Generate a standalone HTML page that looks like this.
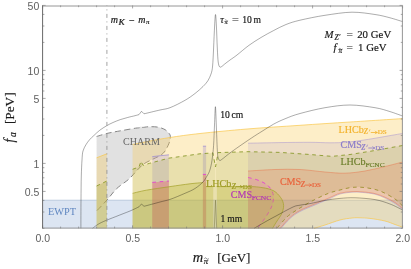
<!DOCTYPE html>
<html><head><meta charset="utf-8"><title>plot</title>
<style>
html,body{margin:0;padding:0;background:#fff;}
body{width:411px;height:269px;overflow:hidden;font-family:"Liberation Serif",serif;}
svg{display:block;}
</style></head><body>
<svg width="411" height="269" viewBox="0 0 411 269">
<rect width="411" height="269" fill="#ffffff"/>
<rect x="42.6" y="200.2" width="360.0" height="28.200000000000017" fill="#b9cbe6" fill-opacity="0.5"/>
<line x1="42.6" y1="200.2" x2="402.6" y2="200.2" stroke="#9fb2cf" stroke-width="0.6"/>
<path d="M96.6,136.5 C98.5,135.9 104.1,134.1 108.0,133.2 C111.9,132.3 115.4,131.7 120.0,130.9 C124.6,130.1 132.1,128.7 135.4,128.2 C138.7,127.7 138.7,128.0 139.6,127.7 C140.5,127.4 140.5,126.3 141.0,126.3 C141.5,126.2 141.1,127.3 142.4,127.4 C143.7,127.5 146.2,126.8 148.8,126.7 C151.4,126.7 155.0,126.6 157.7,127.1 C160.4,127.6 163.1,128.5 165.1,129.7 C167.1,130.9 168.7,132.8 169.6,134.1 C170.5,135.4 170.4,136.2 170.3,137.8 C170.2,139.4 169.7,141.6 168.8,143.8 C167.9,146.0 166.4,149.1 165.1,151.0 C163.8,152.9 162.8,153.8 160.7,155.2 C158.6,156.6 155.6,157.8 152.7,159.3 C149.8,160.8 146.2,162.2 143.4,164.2 C140.6,166.2 138.4,169.0 136.0,171.5 C133.6,174.0 132.1,176.3 128.8,179.2 C125.5,182.1 120.0,185.4 116.4,188.9 C112.8,192.4 110.3,196.3 107.0,200.0 C103.7,203.7 98.3,209.2 96.6,211.0 Z" fill="#dcdcdc" fill-opacity="0.85"/>
<path d="M96.6,136.5 C98.5,135.9 104.1,134.1 108.0,133.2 C111.9,132.3 115.4,131.7 120.0,130.9 C124.6,130.1 132.1,128.7 135.4,128.2 C138.7,127.7 138.7,128.0 139.6,127.7 C140.5,127.4 140.5,126.3 141.0,126.3 C141.5,126.2 141.1,127.3 142.4,127.4 C143.7,127.5 146.2,126.8 148.8,126.7 C151.4,126.7 155.0,126.6 157.7,127.1 C160.4,127.6 163.1,128.5 165.1,129.7 C167.1,130.9 168.7,132.8 169.6,134.1 C170.5,135.4 170.4,136.2 170.3,137.8 C170.2,139.4 169.7,141.6 168.8,143.8 C167.9,146.0 166.4,149.1 165.1,151.0 C163.8,152.9 162.8,153.8 160.7,155.2 C158.6,156.6 155.6,157.8 152.7,159.3 C149.8,160.8 146.2,162.2 143.4,164.2 C140.6,166.2 138.4,169.0 136.0,171.5 C133.6,174.0 132.1,176.3 128.8,179.2 C125.5,182.1 120.0,185.4 116.4,188.9 C112.8,192.4 110.3,196.3 107.0,200.0 C103.7,203.7 98.3,209.2 96.6,211.0" fill="none" stroke="#7a7a7a" stroke-width="0.9" stroke-dasharray="6,3.5"/>
<path d="M96.6,157.8 L106.9,153.8 L106.9,228.4 L96.6,228.4 Z" fill="#f9c74a" fill-opacity="0.3"/>
<path d="M132.6,144.5 C135.5,143.9 143.8,142.2 150.0,141.0 C156.2,139.8 161.7,138.8 170.0,137.5 C178.3,136.2 187.2,134.9 200.0,133.5 C212.8,132.1 230.3,130.4 247.0,129.0 C263.7,127.6 282.8,126.5 300.0,125.3 C317.2,124.1 332.9,123.1 350.0,122.0 C367.1,120.9 393.8,119.2 402.6,118.6 L402.6,227.2 C401.3,226.8 397.9,225.5 395.0,224.5 C392.1,223.5 389.2,222.0 385.0,221.0 C380.8,220.0 374.2,218.9 370.0,218.4 C365.8,217.9 363.0,217.9 360.0,217.8 C357.0,217.7 355.3,217.6 352.0,218.0 C348.7,218.4 344.5,218.8 340.0,220.0 C335.5,221.2 329.3,223.6 325.0,225.0 C320.7,226.4 315.8,227.8 314.0,228.4 L132.6,228.4 Z" fill="#f9c74a" fill-opacity="0.3"/>
<path d="M96.6,157.8 L106.9,153.8" fill="none" stroke="#f9c74a" stroke-width="0.7"/>
<path d="M132.6,144.5 C135.5,143.9 143.8,142.2 150.0,141.0 C156.2,139.8 161.7,138.8 170.0,137.5 C178.3,136.2 187.2,134.9 200.0,133.5 C212.8,132.1 230.3,130.4 247.0,129.0 C263.7,127.6 282.8,126.5 300.0,125.3 C317.2,124.1 332.9,123.1 350.0,122.0 C367.1,120.9 393.8,119.2 402.6,118.6" fill="none" stroke="#f9c74a" stroke-width="0.7"/>
<path d="M402.6,227.2 C401.3,226.8 397.9,225.5 395.0,224.5 C392.1,223.5 389.2,222.0 385.0,221.0 C380.8,220.0 374.2,218.9 370.0,218.4 C365.8,217.9 363.0,217.9 360.0,217.8 C357.0,217.7 355.3,217.6 352.0,218.0 C348.7,218.4 344.5,218.8 340.0,220.0 C335.5,221.2 329.3,223.6 325.0,225.0 C320.7,226.4 315.8,227.8 314.0,228.4" fill="none" stroke="#f9c74a" stroke-width="0.7"/>
<path d="M248.0,143.2 C253.3,143.1 269.7,142.8 280.0,142.6 C290.3,142.4 301.7,142.3 310.0,142.3 C318.3,142.3 323.8,142.8 330.0,142.8 C336.2,142.8 341.3,142.7 347.0,142.2 C352.7,141.7 358.3,140.8 364.0,140.0 C369.7,139.2 375.9,138.1 381.0,137.2 C386.1,136.3 391.2,135.4 394.8,134.8 C398.4,134.2 401.3,133.6 402.6,133.4 L402.6,209.5 C401.3,208.5 397.9,205.4 395.0,203.5 C392.1,201.6 388.3,199.6 385.0,198.0 C381.7,196.4 378.8,195.1 375.0,194.2 C371.2,193.3 365.8,192.7 362.0,192.4 C358.2,192.1 355.7,191.9 352.0,192.2 C348.3,192.5 343.7,192.9 340.0,194.0 C336.3,195.1 334.0,196.8 330.0,198.5 C326.0,200.2 321.0,202.3 316.0,204.5 C311.0,206.7 304.3,209.2 300.0,211.5 C295.7,213.8 293.2,215.7 290.0,218.5 C286.8,221.3 282.5,226.8 281.0,228.4 L248,228.4 Z" fill="#9a86d0" fill-opacity="0.16"/>
<path d="M248.0,143.2 C253.3,143.1 269.7,142.8 280.0,142.6 C290.3,142.4 301.7,142.3 310.0,142.3 C318.3,142.3 323.8,142.8 330.0,142.8 C336.2,142.8 341.3,142.7 347.0,142.2 C352.7,141.7 358.3,140.8 364.0,140.0 C369.7,139.2 375.9,138.1 381.0,137.2 C386.1,136.3 391.2,135.4 394.8,134.8 C398.4,134.2 401.3,133.6 402.6,133.4" fill="none" stroke="#9a86d0" stroke-width="0.55" stroke-opacity="0.8"/>
<path d="M402.6,209.5 C401.3,208.5 397.9,205.4 395.0,203.5 C392.1,201.6 388.3,199.6 385.0,198.0 C381.7,196.4 378.8,195.1 375.0,194.2 C371.2,193.3 365.8,192.7 362.0,192.4 C358.2,192.1 355.7,191.9 352.0,192.2 C348.3,192.5 343.7,192.9 340.0,194.0 C336.3,195.1 334.0,196.8 330.0,198.5 C326.0,200.2 321.0,202.3 316.0,204.5 C311.0,206.7 304.3,209.2 300.0,211.5 C295.7,213.8 293.2,215.7 290.0,218.5 C286.8,221.3 282.5,226.8 281.0,228.4" fill="none" stroke="#9a86d0" stroke-width="0.55" stroke-opacity="0.8"/>
<path d="M152.3,156.6 L168.9,154.8 L168.9,228.4 L152.3,228.4 Z" fill="#9a86d0" fill-opacity="0.25"/>
<line x1="152.3" y1="156.6" x2="168.9" y2="154.8" stroke="#9a86d0" stroke-width="0.7"/>
<rect x="202.9" y="146.2" width="3.2" height="82.20000000000002" fill="#9a86d0" fill-opacity="0.3"/><line x1="202.9" y1="146.2" x2="206.1" y2="146.2" stroke="#9a86d0" stroke-width="0.7"/>
<path d="M96.6,186 L106.9,181 L106.9,228.4 L96.6,228.4 Z" fill="#8a9a2c" fill-opacity="0.15"/>
<path d="M132.6,169.3 L139.0,167.0 L141.0,161.3 L143.0,165.3 L149.3,163.4 L168.6,158.2 L190.0,155.2 L200.0,153.8 L212.8,152.9 L214.2,160.0 L215.5,167.0 L216.8,160.0 L218.0,152.6 L248.0,151.7 L280.0,152.4 L310.0,154.5 L332.0,156.4 L350.0,154.5 L375.0,150.5 L402.6,145.5 L402.6,206.0 C401.3,204.8 398.8,201.5 395.0,199.0 C391.2,196.5 385.0,192.9 380.0,191.0 C375.0,189.1 369.7,188.2 365.0,187.6 C360.3,187.0 356.2,187.0 352.0,187.4 C347.8,187.8 344.0,189.0 340.0,190.0 C336.0,191.0 332.3,191.8 328.0,193.5 C323.7,195.2 318.7,197.6 314.0,200.0 C309.3,202.4 304.0,205.6 300.0,208.0 C296.0,210.4 292.5,212.7 290.0,214.5 C287.5,216.3 287.0,216.9 285.0,219.0 C283.0,221.1 279.3,225.4 278.0,227.0 C276.7,228.6 277.2,228.2 277.0,228.4 L132.6,228.4 Z" fill="#8a9a2c" fill-opacity="0.17"/>
<path d="M96.6,186 L106.9,181" fill="none" stroke="#8a9a2c" stroke-width="0.9" stroke-dasharray="3.7,3.6"/>
<path d="M132.6,169.3 L139.0,167.0 L141.0,161.3 L143.0,165.3 L149.3,163.4 L168.6,158.2 L190.0,155.2 L200.0,153.8 L212.8,152.9 L214.2,160.0 L215.5,167.0 L216.8,160.0 L218.0,152.6 L248.0,151.7 L280.0,152.4 L310.0,154.5 L332.0,156.4 L350.0,154.5 L375.0,150.5 L402.6,145.5" fill="none" stroke="#8a9a2c" stroke-width="0.9" stroke-dasharray="3.7,3.6" stroke-linejoin="round"/>
<path d="M402.6,206.0 C401.3,204.8 398.8,201.5 395.0,199.0 C391.2,196.5 385.0,192.9 380.0,191.0 C375.0,189.1 369.7,188.2 365.0,187.6 C360.3,187.0 356.2,187.0 352.0,187.4 C347.8,187.8 344.0,189.0 340.0,190.0 C336.0,191.0 332.3,191.8 328.0,193.5 C323.7,195.2 318.7,197.6 314.0,200.0 C309.3,202.4 304.0,205.6 300.0,208.0 C296.0,210.4 292.5,212.7 290.0,214.5 C287.5,216.3 287.0,216.9 285.0,219.0 C283.0,221.1 279.3,225.4 278.0,227.0 C276.7,228.6 277.2,228.2 277.0,228.4" fill="none" stroke="#8a9a2c" stroke-width="0.9" stroke-dasharray="3.7,3.6"/>
<path d="M248.0,171.0 C252.5,170.8 266.3,169.8 275.0,169.5 C283.7,169.2 291.7,169.1 300.0,169.5 C308.3,169.9 317.5,171.4 325.0,172.0 C332.5,172.6 338.3,173.4 345.0,173.2 C351.7,173.0 358.3,172.1 365.0,171.0 C371.7,169.9 378.7,168.0 385.0,166.5 C391.3,165.0 399.7,162.8 402.6,162.0 L402.6,208.5 C401.3,207.5 397.9,204.4 395.0,202.5 C392.1,200.6 388.3,198.7 385.0,197.2 C381.7,195.7 378.8,194.5 375.0,193.6 C371.2,192.7 365.8,192.1 362.0,191.8 C358.2,191.5 355.7,191.4 352.0,191.6 C348.3,191.8 343.7,192.2 340.0,193.2 C336.3,194.2 334.0,195.8 330.0,197.5 C326.0,199.2 321.0,201.3 316.0,203.5 C311.0,205.7 304.3,208.2 300.0,210.5 C295.7,212.8 293.3,214.5 290.0,217.5 C286.7,220.5 281.7,226.6 280.0,228.4 L248,228.4 Z" fill="#e8653a" fill-opacity="0.19"/>
<path d="M248.0,171.0 C252.5,170.8 266.3,169.8 275.0,169.5 C283.7,169.2 291.7,169.1 300.0,169.5 C308.3,169.9 317.5,171.4 325.0,172.0 C332.5,172.6 338.3,173.4 345.0,173.2 C351.7,173.0 358.3,172.1 365.0,171.0 C371.7,169.9 378.7,168.0 385.0,166.5 C391.3,165.0 399.7,162.8 402.6,162.0" fill="none" stroke="#e8653a" stroke-width="0.55" stroke-opacity="0.75"/>
<path d="M402.6,208.5 C401.3,207.5 397.9,204.4 395.0,202.5 C392.1,200.6 388.3,198.7 385.0,197.2 C381.7,195.7 378.8,194.5 375.0,193.6 C371.2,192.7 365.8,192.1 362.0,191.8 C358.2,191.5 355.7,191.4 352.0,191.6 C348.3,191.8 343.7,192.2 340.0,193.2 C336.3,194.2 334.0,195.8 330.0,197.5 C326.0,199.2 321.0,201.3 316.0,203.5 C311.0,205.7 304.3,208.2 300.0,210.5 C295.7,212.8 293.3,214.5 290.0,217.5 C286.7,220.5 281.7,226.6 280.0,228.4" fill="none" stroke="#e8653a" stroke-width="0.55" stroke-opacity="0.75"/>
<path d="M152.3,182.4 L168.9,181 L168.9,228.4 L152.3,228.4 Z" fill="#e8653a" fill-opacity="0.3"/>
<rect x="202.9" y="174.4" width="3.2" height="54.0" fill="#e8653a" fill-opacity="0.3"/><line x1="202.9" y1="174.4" x2="206.1" y2="174.4" stroke="#e23fd3" stroke-width="0.9"/>
<path d="M248.0,177.4 C249.4,177.8 253.9,178.8 256.4,179.6 C258.9,180.4 261.1,181.4 263.0,182.4 C264.9,183.4 266.6,184.3 268.0,185.6 C269.4,186.9 270.6,188.3 271.5,190.0 C272.4,191.7 273.2,194.0 273.5,196.0 C273.8,198.0 273.4,200.0 273.0,202.0 C272.6,204.0 272.2,205.6 271.0,208.0 C269.8,210.4 267.8,213.8 266.0,216.6 C264.2,219.4 261.4,223.0 260.0,225.0 C258.6,227.0 257.9,227.8 257.5,228.4 L248,228.4 Z" fill="#e23fd3" fill-opacity="0.10"/>
<path d="M248.0,177.4 C249.4,177.8 253.9,178.8 256.4,179.6 C258.9,180.4 261.1,181.4 263.0,182.4 C264.9,183.4 266.6,184.3 268.0,185.6 C269.4,186.9 270.6,188.3 271.5,190.0 C272.4,191.7 273.2,194.0 273.5,196.0 C273.8,198.0 273.4,200.0 273.0,202.0 C272.6,204.0 272.2,205.6 271.0,208.0 C269.8,210.4 267.8,213.8 266.0,216.6 C264.2,219.4 261.4,223.0 260.0,225.0 C258.6,227.0 257.9,227.8 257.5,228.4" fill="none" stroke="#e23fd3" stroke-width="0.9" stroke-dasharray="3.7,3.6"/>
<path d="M152.3,182.4 L168.9,181 L168.9,228.4 L152.3,228.4 Z" fill="#e23fd3" fill-opacity="0.12"/>
<line x1="152.3" y1="182.4" x2="168.9" y2="181" stroke="#e23fd3" stroke-width="0.9" stroke-dasharray="3.7,3.6"/>
<path d="M96.6,228.4 L96.6,186 L106.9,181 L106.9,228.4 Z" fill="#b5b22a" fill-opacity="0.16"/>
<path d="M132.6,193.3 C134.9,192.8 140.1,191.3 146.3,190.2 C152.5,189.1 162.7,187.7 170.0,186.6 C177.3,185.5 184.5,184.5 190.0,183.8 C195.5,183.1 200.8,182.8 202.9,182.6 L206.1,182.6 L206.1,186.6 L213.2,186.6 L213.2,228.4 L132.6,228.4 Z" fill="#b5b22a" fill-opacity="0.30"/>
<path d="M216.9,186.6 C220.8,186.6 233.8,186.6 240.0,186.6 C246.2,186.6 250.3,186.5 254.0,186.7 C257.7,186.9 259.5,187.2 262.0,187.6 C264.5,188.0 266.8,188.3 268.8,188.9 C270.8,189.5 272.5,190.2 274.0,191.0 C275.5,191.8 276.5,192.8 277.6,193.9 C278.7,195.0 279.8,196.3 280.6,197.5 C281.5,198.7 282.2,199.9 282.7,201.2 C283.2,202.5 283.6,204.0 283.6,205.5 C283.7,207.0 283.4,208.4 283.0,210.0 C282.6,211.6 281.8,213.4 281.0,215.0 C280.2,216.6 279.1,217.8 278.0,219.5 C276.9,221.2 275.4,223.5 274.5,225.0 C273.6,226.5 272.8,227.8 272.5,228.4 L216.9,228.4 Z" fill="#b5b22a" fill-opacity="0.30"/>
<path d="M132.6,193.3 C134.9,192.8 140.1,191.3 146.3,190.2 C152.5,189.1 162.7,187.7 170.0,186.6 C177.3,185.5 184.5,184.5 190.0,183.8 C195.5,183.1 200.8,182.8 202.9,182.6" fill="none" stroke="#a3a02a" stroke-width="0.7"/>
<path d="M206.1,186.6 L213.2,186.6" fill="none" stroke="#a3a02a" stroke-width="0.7"/>
<path d="M216.9,186.6 C220.8,186.6 233.8,186.6 240.0,186.6 C246.2,186.6 250.3,186.5 254.0,186.7 C257.7,186.9 259.5,187.2 262.0,187.6 C264.5,188.0 266.8,188.3 268.8,188.9 C270.8,189.5 272.5,190.2 274.0,191.0 C275.5,191.8 276.5,192.8 277.6,193.9 C278.7,195.0 279.8,196.3 280.6,197.5 C281.5,198.7 282.2,199.9 282.7,201.2 C283.2,202.5 283.6,204.0 283.6,205.5 C283.7,207.0 283.4,208.4 283.0,210.0 C282.6,211.6 281.8,213.4 281.0,215.0 C280.2,216.6 279.1,217.8 278.0,219.5 C276.9,221.2 275.4,223.5 274.5,225.0 C273.6,226.5 272.8,227.8 272.5,228.4" fill="none" stroke="#a3a02a" stroke-width="0.7"/>
<path d="M215.5,167 L215.5,186.6" fill="none" stroke="#fbeec6" stroke-width="0.8" stroke-opacity="0.7"/>
<path d="M80.9,228.4 C80.9,223.7 80.9,208.7 81.0,200.0 C81.1,191.3 81.1,182.7 81.3,176.0 C81.5,169.3 81.7,164.2 82.0,160.0 C82.3,155.8 82.3,153.5 83.0,151.0 C83.7,148.5 84.8,146.7 85.9,144.8 C87.0,142.9 88.2,141.3 89.6,139.7 C90.9,138.1 92.3,137.0 94.0,135.4 C95.7,133.8 97.7,131.8 99.8,130.2 C101.9,128.6 104.2,127.2 106.4,125.9 C108.6,124.6 110.7,123.5 113.0,122.5 C115.3,121.5 117.9,120.4 120.3,119.6 C122.7,118.8 125.1,118.2 127.6,117.5 C130.0,116.8 133.1,116.2 135.0,115.7 C136.9,115.2 138.3,114.8 139.0,114.6 L141.5,111.3 L144.0,113.8 C146.7,113.2 155.7,111.0 160.0,110.0 C164.3,109.0 165.8,109.3 170.0,107.7 C174.2,106.1 180.8,102.7 185.0,100.3 C189.2,97.9 192.0,95.8 195.0,93.5 C198.0,91.2 200.8,88.7 203.0,86.5 C205.2,84.3 206.7,82.6 208.0,80.5 C209.3,78.4 210.2,76.4 211.0,74.0 C211.8,71.6 212.2,70.3 212.6,66.0 C213.0,61.7 213.3,54.7 213.6,48.0 C213.9,41.3 214.3,31.6 214.6,26.0 C214.9,20.4 215.2,14.5 215.5,14.5 C215.8,14.5 216.1,20.4 216.4,26.0 C216.7,31.6 217.0,42.0 217.3,48.0 C217.6,54.0 217.8,58.9 218.2,62.0 C218.6,65.1 219.0,66.0 219.6,66.8 C220.2,67.6 220.8,67.0 221.6,66.6 C222.4,66.2 223.1,65.3 224.5,64.2 C225.9,63.1 227.9,61.5 230.0,60.0 C232.1,58.5 233.8,57.5 237.0,55.0 C240.2,52.5 245.0,48.2 249.0,45.3 C253.0,42.4 256.9,40.0 261.0,37.5 C265.1,35.0 269.3,32.8 273.5,30.6 C277.7,28.4 281.6,26.2 286.0,24.5 C290.4,22.8 293.5,21.7 300.0,20.2 C306.5,18.7 316.3,16.6 325.0,15.3 C333.7,14.0 343.7,12.3 352.0,12.2 C360.3,12.1 368.7,13.6 375.0,14.5 C381.3,15.4 385.4,16.6 390.0,17.8 C394.6,19.0 400.5,21.0 402.6,21.6" fill="none" stroke="#000000" stroke-opacity="0.55" stroke-width="0.6"/>
<path d="M92.5,228.4 C93.2,227.8 95.2,226.2 97.0,225.0 C98.8,223.8 100.4,222.9 103.5,221.5 C106.6,220.1 111.4,218.3 115.8,216.6 C120.2,214.8 126.1,212.6 130.0,211.0 C133.9,209.4 137.5,207.5 139.0,206.8 L141.5,204 L144.0,206.3 C146.7,205.6 155.7,203.2 160.0,202.0 C164.3,200.8 165.8,200.8 170.0,199.4 C174.2,198.0 180.8,195.1 185.0,193.3 C189.2,191.5 192.0,190.4 195.0,188.5 C198.0,186.6 201.0,184.1 203.0,182.0 C205.0,179.9 205.8,178.0 207.0,176.0 C208.2,174.0 209.1,172.6 209.9,170.0 C210.7,167.4 211.4,164.4 212.0,160.3 C212.6,156.2 213.2,151.3 213.6,145.4 C214.0,139.5 214.2,131.4 214.5,125.0 C214.8,118.5 215.1,106.7 215.4,106.7 C215.7,106.7 216.0,117.8 216.3,125.0 C216.6,132.2 217.0,144.5 217.3,149.9 C217.6,155.3 217.6,155.6 218.0,157.3 C218.4,159.0 218.9,159.9 219.5,160.3 C220.1,160.7 219.6,161.0 221.7,159.5 C223.8,158.0 227.1,155.0 232.1,151.4 C237.1,147.8 246.5,141.3 251.5,138.0 C256.5,134.7 258.3,133.6 262.0,131.3 C265.7,129.0 269.7,126.3 273.5,124.2 C277.3,122.1 280.6,120.6 285.0,118.8 C289.4,117.0 293.3,115.3 300.0,113.5 C306.7,111.7 316.7,109.1 325.0,107.7 C333.3,106.3 341.7,105.0 350.0,105.0 C358.3,105.0 368.3,106.6 375.0,107.7 C381.7,108.8 385.4,110.2 390.0,111.6 C394.6,113.0 400.5,115.3 402.6,116.0" fill="none" stroke="#000000" stroke-opacity="0.55" stroke-width="0.6"/>
<path d="M214.3,228.4 L215.5,200.2 L216.7,228.4" fill="none" stroke="#7d7b45" stroke-width="0.55"/>
<path d="M254.0,228.4 C255.8,227.3 261.3,224.1 265.0,222.0 C268.7,219.9 271.3,218.5 276.0,216.0 C280.7,213.5 289.0,208.8 293.0,207.0 C297.0,205.2 297.2,205.8 300.0,205.2 C302.8,204.6 305.8,204.4 310.0,203.6 C314.2,202.8 320.0,201.3 325.0,200.4 C330.0,199.5 335.0,198.8 340.0,198.4 C345.0,198.0 349.2,197.6 355.0,197.8 C360.8,198.0 369.2,198.6 375.0,199.6 C380.8,200.6 385.4,202.3 390.0,204.0 C394.6,205.7 400.5,209.0 402.6,210.0" fill="none" stroke="#000000" stroke-opacity="0.55" stroke-width="0.6"/>
<line x1="106.9" y1="5.4" x2="106.9" y2="228.4" stroke="#8c8c8c" stroke-width="0.8" stroke-dasharray="4,3.5,1,3.5" stroke-dashoffset="3.5"/>
<path d="M42.6,228.4 v-3.0 M42.6,5.4 v3.0 M60.6,228.4 v-1.8 M60.6,5.4 v1.8 M78.6,228.4 v-1.8 M78.6,5.4 v1.8 M96.6,228.4 v-1.8 M96.6,5.4 v1.8 M114.6,228.4 v-1.8 M114.6,5.4 v1.8 M132.6,228.4 v-3.0 M132.6,5.4 v3.0 M150.6,228.4 v-1.8 M150.6,5.4 v1.8 M168.6,228.4 v-1.8 M168.6,5.4 v1.8 M186.6,228.4 v-1.8 M186.6,5.4 v1.8 M204.6,228.4 v-1.8 M204.6,5.4 v1.8 M222.6,228.4 v-3.0 M222.6,5.4 v3.0 M240.6,228.4 v-1.8 M240.6,5.4 v1.8 M258.6,228.4 v-1.8 M258.6,5.4 v1.8 M276.6,228.4 v-1.8 M276.6,5.4 v1.8 M294.6,228.4 v-1.8 M294.6,5.4 v1.8 M312.6,228.4 v-3.0 M312.6,5.4 v3.0 M330.6,228.4 v-1.8 M330.6,5.4 v1.8 M348.6,228.4 v-1.8 M348.6,5.4 v1.8 M366.6,228.4 v-1.8 M366.6,5.4 v1.8 M384.6,228.4 v-1.8 M384.6,5.4 v1.8 M402.6,228.4 v-3.0 M402.6,5.4 v3.0 M42.6,228.4 h1.8 M402.6,228.4 h-1.8 M42.6,212.0 h1.8 M402.6,212.0 h-1.8 M42.6,200.4 h1.8 M402.6,200.4 h-1.8 M42.6,191.4 h3.0 M402.6,191.4 h-3.0 M42.6,184.0 h1.8 M402.6,184.0 h-1.8 M42.6,177.8 h1.8 M402.6,177.8 h-1.8 M42.6,172.4 h1.8 M402.6,172.4 h-1.8 M42.6,167.7 h1.8 M402.6,167.7 h-1.8 M42.6,163.4 h3.0 M402.6,163.4 h-3.0 M42.6,135.4 h1.8 M402.6,135.4 h-1.8 M42.6,119.0 h1.8 M402.6,119.0 h-1.8 M42.6,107.4 h1.8 M402.6,107.4 h-1.8 M42.6,98.4 h3.0 M402.6,98.4 h-3.0 M42.6,91.0 h1.8 M402.6,91.0 h-1.8 M42.6,84.8 h1.8 M402.6,84.8 h-1.8 M42.6,79.4 h1.8 M402.6,79.4 h-1.8 M42.6,74.7 h1.8 M402.6,74.7 h-1.8 M42.6,70.4 h3.0 M402.6,70.4 h-3.0 M42.6,42.4 h1.8 M402.6,42.4 h-1.8 M42.6,26.0 h1.8 M402.6,26.0 h-1.8 M42.6,14.4 h1.8 M402.6,14.4 h-1.8 M42.6,5.4 h3.0 M402.6,5.4 h-3.0" stroke="#6b6b6b" stroke-width="0.6" fill="none"/>
<path d="M42.6,6.0 H402.4 V228.1 H42.6" fill="none" stroke="#8a8a8a" stroke-width="0.9"/>
<path d="M42.6,5.4 V228.4" fill="none" stroke="#686868" stroke-width="1"/>
<g style="will-change:transform">
<text x="42.7" y="241.6" text-anchor="middle" font-family="Liberation Sans, sans-serif" font-size="10.5" fill="#606060">0.0</text>
<text x="132.7" y="241.6" text-anchor="middle" font-family="Liberation Sans, sans-serif" font-size="10.5" fill="#606060">0.5</text>
<text x="222.7" y="241.6" text-anchor="middle" font-family="Liberation Sans, sans-serif" font-size="10.5" fill="#606060">1.0</text>
<text x="312.7" y="241.6" text-anchor="middle" font-family="Liberation Sans, sans-serif" font-size="10.5" fill="#606060">1.5</text>
<text x="402.7" y="241.6" text-anchor="middle" font-family="Liberation Sans, sans-serif" font-size="10.5" fill="#606060">2.0</text>
<text x="39.3" y="9.7" text-anchor="end" font-family="Liberation Sans, sans-serif" font-size="10.5" fill="#606060">50</text>
<text x="39.3" y="74.7" text-anchor="end" font-family="Liberation Sans, sans-serif" font-size="10.5" fill="#606060">10</text>
<text x="39.3" y="102.7" text-anchor="end" font-family="Liberation Sans, sans-serif" font-size="10.5" fill="#606060">5</text>
<text x="39.3" y="167.7" text-anchor="end" font-family="Liberation Sans, sans-serif" font-size="10.5" fill="#606060">1</text>
<text x="39.3" y="195.7" text-anchor="end" font-family="Liberation Sans, sans-serif" font-size="10.5" fill="#606060">0.5</text>
<text x="192.8" y="261.5" font-family="Liberation Serif, serif" font-size="14.4" fill="#1a1a1a" font-style="italic" text-anchor="start"  stroke="#1a1a1a" stroke-width="0.18">m</text>
<text x="203.8" y="264.2" font-family="Liberation Serif, serif" font-size="8.6" fill="#1a1a1a" font-style="italic" text-anchor="start"  stroke="#1a1a1a" stroke-width="0.18">π</text>
<path d="M204.3,258.6 q1.15,-1.53 2.30,0 t2.30,0" fill="none" stroke="#1a1a1a" stroke-width="0.5"/>
<text x="217.2" y="261.5" font-family="Liberation Serif, serif" font-size="13.0" fill="#1a1a1a" text-anchor="start"  stroke="#1a1a1a" stroke-width="0.18">[GeV]</text>
<g transform="translate(13.5,142.6) rotate(-90)">
<text x="0" y="0" font-family="Liberation Serif, serif" font-size="13.6" fill="#1a1a1a" font-style="italic" text-anchor="start"  stroke="#1a1a1a" stroke-width="0.18">f</text>
<text x="5.6" y="2.0" font-family="Liberation Serif, serif" font-size="9.6" fill="#1a1a1a" font-style="italic" text-anchor="start"  stroke="#1a1a1a" stroke-width="0.18">a</text>
<text x="18.5" y="0" font-family="Liberation Serif, serif" font-size="13.3" fill="#1a1a1a" text-anchor="start"  stroke="#1a1a1a" stroke-width="0.18">[PeV]</text>
</g>
<text x="110.7" y="22.6" font-family="Liberation Serif, serif" font-size="10" fill="#1a1a1a" font-style="italic" text-anchor="start"  stroke="#1a1a1a" stroke-width="0.18">m</text>
<g transform="translate(118.6,24.5) scale(1.3,1)">
<text x="0" y="0" font-family="Liberation Serif, serif" font-size="7.2" fill="#1a1a1a" font-style="italic" text-anchor="start"  stroke="#1a1a1a" stroke-width="0.18">K</text>
</g>
<text x="129.0" y="23.6" font-family="Liberation Serif, serif" font-size="10" fill="#1a1a1a" text-anchor="start"  stroke="#1a1a1a" stroke-width="0.18">−</text>
<text x="138.2" y="22.6" font-family="Liberation Serif, serif" font-size="10" fill="#1a1a1a" font-style="italic" text-anchor="start"  stroke="#1a1a1a" stroke-width="0.18">m</text>
<text x="145.9" y="24.2" font-family="Liberation Serif, serif" font-size="6.9" fill="#1a1a1a" font-style="italic" text-anchor="start"  stroke="#1a1a1a" stroke-width="0.18">π</text>
<text x="220.2" y="22.6" font-family="Liberation Serif, serif" font-size="10" fill="#1a1a1a" font-style="italic" text-anchor="start"  stroke="#1a1a1a" stroke-width="0.18">τ</text>
<text x="224.6" y="24.4" font-family="Liberation Serif, serif" font-size="6.4" fill="#1a1a1a" font-style="italic" text-anchor="start"  stroke="#1a1a1a" stroke-width="0.18">π</text>
<path d="M224.9,20.3 q0.80,-1.07 1.60,0 t1.60,0" fill="none" stroke="#1a1a1a" stroke-width="0.4"/>
<text x="232.0" y="22.6" font-family="Liberation Serif, serif" font-size="10" fill="#1a1a1a" text-anchor="start" textLength="6.8" lengthAdjust="spacingAndGlyphs" stroke="#1a1a1a" stroke-width="0.18">=</text>
<text x="242.2" y="22.6" font-family="Liberation Serif, serif" font-size="9.6" fill="#1a1a1a" text-anchor="start"  stroke="#1a1a1a" stroke-width="0.18">10</text>
<text x="253.4" y="22.6" font-family="Liberation Serif, serif" font-size="9.6" fill="#1a1a1a" text-anchor="start"  stroke="#1a1a1a" stroke-width="0.18">m</text>
<text x="220.3" y="118.1" font-family="Liberation Serif, serif" font-size="9.6" fill="#1a1a1a" text-anchor="start"  stroke="#1a1a1a" stroke-width="0.18">10</text>
<text x="231.6" y="118.1" font-family="Liberation Serif, serif" font-size="9.6" fill="#1a1a1a" text-anchor="start"  stroke="#1a1a1a" stroke-width="0.18">cm</text>
<text x="220.6" y="221.9" font-family="Liberation Serif, serif" font-size="9.6" fill="#1a1a1a" text-anchor="start"  stroke="#1a1a1a" stroke-width="0.18">1</text>
<text x="227.3" y="221.9" font-family="Liberation Serif, serif" font-size="9.6" fill="#1a1a1a" text-anchor="start"  stroke="#1a1a1a" stroke-width="0.18">mm</text>
<text x="324.6" y="37.8" font-family="Liberation Serif, serif" font-size="10.8" fill="#1a1a1a" font-style="italic" text-anchor="start"  stroke="#1a1a1a" stroke-width="0.18">M</text>
<text x="334.6" y="39.8" font-family="Liberation Serif, serif" font-size="7.4" fill="#1a1a1a" font-style="italic" text-anchor="start"  stroke="#1a1a1a" stroke-width="0.18">Z′</text>
<text x="346.4" y="37.8" font-family="Liberation Serif, serif" font-size="10.8" fill="#1a1a1a" text-anchor="start" textLength="6.4" lengthAdjust="spacingAndGlyphs" stroke="#1a1a1a" stroke-width="0.18">=</text>
<text x="357.2" y="37.8" font-family="Liberation Serif, serif" font-size="10.8" fill="#1a1a1a" text-anchor="start"  stroke="#1a1a1a" stroke-width="0.18">20</text>
<text x="370.8" y="37.8" font-family="Liberation Serif, serif" font-size="10.8" fill="#1a1a1a" text-anchor="start"  stroke="#1a1a1a" stroke-width="0.18">GeV</text>
<text x="333.6" y="51.4" font-family="Liberation Serif, serif" font-size="10.8" fill="#1a1a1a" font-style="italic" text-anchor="start"  stroke="#1a1a1a" stroke-width="0.18">f</text>
<text x="338.6" y="53.4" font-family="Liberation Serif, serif" font-size="7.2" fill="#1a1a1a" font-style="italic" text-anchor="start"  stroke="#1a1a1a" stroke-width="0.18">π</text>
<path d="M338.9,48.9 q0.90,-1.20 1.80,0 t1.80,0" fill="none" stroke="#1a1a1a" stroke-width="0.45"/>
<text x="346.4" y="51.4" font-family="Liberation Serif, serif" font-size="10.8" fill="#1a1a1a" text-anchor="start" textLength="6.4" lengthAdjust="spacingAndGlyphs" stroke="#1a1a1a" stroke-width="0.18">=</text>
<text x="358.0" y="51.4" font-family="Liberation Serif, serif" font-size="10.8" fill="#1a1a1a" text-anchor="start"  stroke="#1a1a1a" stroke-width="0.18">1</text>
<text x="366.2" y="51.4" font-family="Liberation Serif, serif" font-size="10.8" fill="#1a1a1a" text-anchor="start"  stroke="#1a1a1a" stroke-width="0.18">GeV</text>
<text x="47.9" y="215.0" font-family="Liberation Serif, serif" font-size="10.3" fill="#5f86c0" text-anchor="start" stroke="none">EWPT</text>
<text x="123.0" y="145.3" font-family="Liberation Serif, serif" font-size="10.1" fill="#666666" text-anchor="start" stroke="none">CHARM</text>
<text x="338.5" y="132.8" font-family="Liberation Serif, serif" font-size="10.1" fill="#f3b32e" text-anchor="start"  stroke="#f3b32e" stroke-width="0.18">LHCb</text>
<text x="363.8" y="134.4" font-family="Liberation Serif, serif" font-size="7.2" fill="#f3b32e" font-style="italic" text-anchor="start" stroke="#f3b32e" stroke-width="0.22">Z</text>
<path d="M369.1,130.9 l0.9,-2.4" transform="translate(0,0.7)" stroke="#f3b32e" stroke-width="0.7" fill="none"/>
<path d="M371.2,132.5 H377.2 M375.3,131.2 Q376.0,132.2 377.2,132.5 Q376.0,132.8 375.3,133.8" fill="none" stroke="#f3b32e" stroke-width="0.8" stroke-linecap="round"/>
<text x="377.7" y="134.4" font-family="Liberation Serif, serif" font-size="6.0" fill="#f3b32e" stroke="#f3b32e" stroke-width="0.18" textLength="9.0" lengthAdjust="spacingAndGlyphs">DS</text>
<text x="340.5" y="148.3" font-family="Liberation Serif, serif" font-size="10.1" fill="#8b7bc9" text-anchor="start"  stroke="#8b7bc9" stroke-width="0.18">CMS</text>
<text x="361.3" y="149.9" font-family="Liberation Serif, serif" font-size="7.2" fill="#8b7bc9" font-style="italic" text-anchor="start" stroke="#8b7bc9" stroke-width="0.22">Z</text>
<path d="M366.6,146.4 l0.9,-2.4" transform="translate(0,0.7)" stroke="#8b7bc9" stroke-width="0.7" fill="none"/>
<path d="M368.7,148.0 H374.7 M372.8,146.7 Q373.5,147.7 374.7,148.0 Q373.5,148.3 372.8,149.3" fill="none" stroke="#8b7bc9" stroke-width="0.8" stroke-linecap="round"/>
<text x="375.2" y="149.9" font-family="Liberation Serif, serif" font-size="6.0" fill="#8b7bc9" stroke="#8b7bc9" stroke-width="0.18" textLength="9.0" lengthAdjust="spacingAndGlyphs">DS</text>
<text x="340.4" y="165.2" font-family="Liberation Serif, serif" font-size="10.1" fill="#6d7f2c" text-anchor="start"  stroke="#6d7f2c" stroke-width="0.18">LHCb</text>
<text x="365.4" y="166.79999999999998" font-family="Liberation Serif, serif" font-size="6.0" fill="#6d7f2c" stroke="#6d7f2c" stroke-width="0.18" textLength="19.2" lengthAdjust="spacingAndGlyphs">FCNC</text>
<text x="279.9" y="185.4" font-family="Liberation Serif, serif" font-size="10.1" fill="#e9633c" text-anchor="start"  stroke="#e9633c" stroke-width="0.18">CMS</text>
<text x="300.8" y="187.0" font-family="Liberation Serif, serif" font-size="7.2" fill="#e9633c" font-style="italic" text-anchor="start" stroke="#e9633c" stroke-width="0.22">Z</text>
<path d="M305.40000000000003,185.1 H311.40000000000003 M309.5,183.8 Q310.2,184.8 311.40000000000003,185.1 Q310.2,185.4 309.5,186.4" fill="none" stroke="#e9633c" stroke-width="0.8" stroke-linecap="round"/>
<text x="311.90000000000003" y="187.0" font-family="Liberation Serif, serif" font-size="6.0" fill="#e9633c" stroke="#e9633c" stroke-width="0.18" textLength="9.0" lengthAdjust="spacingAndGlyphs">DS</text>
<text x="206.0" y="187.0" font-family="Liberation Serif, serif" font-size="10.1" fill="#9c9a22" text-anchor="start"  stroke="#9c9a22" stroke-width="0.18">LHCb</text>
<text x="231.7" y="188.6" font-family="Liberation Serif, serif" font-size="7.2" fill="#9c9a22" font-style="italic" text-anchor="start" stroke="#9c9a22" stroke-width="0.22">Z</text>
<path d="M236.29999999999998,186.7 H242.29999999999998 M240.4,185.4 Q241.1,186.4 242.29999999999998,186.7 Q241.1,187.0 240.4,188.0" fill="none" stroke="#9c9a22" stroke-width="0.8" stroke-linecap="round"/>
<text x="242.79999999999998" y="188.6" font-family="Liberation Serif, serif" font-size="6.0" fill="#9c9a22" stroke="#9c9a22" stroke-width="0.18" textLength="9.0" lengthAdjust="spacingAndGlyphs">DS</text>
<text x="230.8" y="198.3" font-family="Liberation Serif, serif" font-size="10.1" fill="#b236b4" text-anchor="start"  stroke="#b236b4" stroke-width="0.18">CMS</text>
<text x="251.7" y="199.9" font-family="Liberation Serif, serif" font-size="6.0" fill="#b236b4" stroke="#b236b4" stroke-width="0.18" textLength="19.5" lengthAdjust="spacingAndGlyphs">FCNC</text>
</g>
</svg>
</body></html>
